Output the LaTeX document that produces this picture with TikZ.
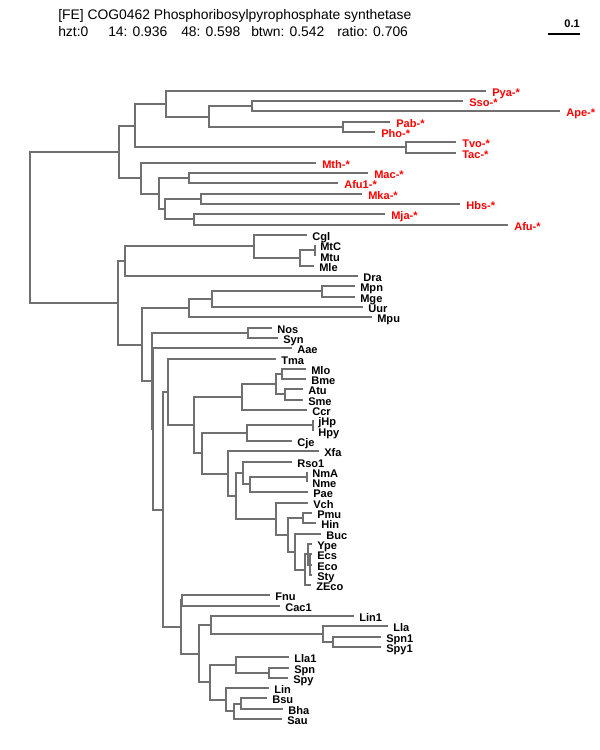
\documentclass[tikz,border=0pt]{standalone}
\usepackage{fontspec}
\setmainfont{Liberation Sans}
\usetikzlibrary{calc}

\definecolor{branchgray}{RGB}{112,112,112}
\definecolor{archred}{RGB}{255,0,0}

\tikzset{
  branch/.style={draw=branchgray, line width=1.5pt},
  taxon/.style={anchor=base west, inner sep=0pt, font=\fontsize{8.3}{9}\selectfont\bfseries},
  arch/.style={taxon, text=archred},
  headline/.style={anchor=base west, inner sep=0pt, font=\fontsize{10.4}{12}\selectfont},
}

\begin{document}
\begin{tikzpicture}[x=0.75pt,y=0.75pt,yscale=-1,xscale=1]
\useasboundingbox (0,0) rectangle (600,750);

% Text Node
\node[headline] (title) at (58,19) {[FE] COG0462 Phosphoribosylpyrophosphate synthetase};
\node[headline] (hzt) at (58,36) {hzt:0};
\node[headline] (s14) at (108,36) {14: 0.936};
\node[headline] (s48) at (181,36) {48: 0.598};
\node[headline] (btwn) at (251,36) {btwn: 0.542};
\node[headline] (ratio) at (337,36) {ratio: 0.706};

%Scale bar
\coordinate (barL) at (548,34);
\coordinate (barR) at (580,34);
\draw[line width=1pt] (barL) -- (barR);
\node[taxon, anchor=base east] (bar) at (580,27) {0.1};

%Leaf tips: archaea
\coordinate (Pya) at (486,91);
\coordinate (Sso) at (463,101);
\coordinate (Ape) at (560,111);
\coordinate (Pab) at (390,122);
\coordinate (Pho) at (375,132);
\coordinate (Tvo) at (456,142);
\coordinate (Tac) at (456,153);
\coordinate (Mth) at (316,163);
\coordinate (Mac) at (368,173);
\coordinate (Afu1) at (338,183);
\coordinate (Mka) at (362,194);
\coordinate (Hbs) at (460,204);
\coordinate (Mja) at (385,214);
\coordinate (Afu) at (508,225);

%Leaf tips: bacteria
\coordinate (Cgl) at (307,235);
\coordinate (MtC) at (315,245);
\coordinate (Mtu) at (315,256);
\coordinate (Mle) at (314,266);
\coordinate (Dra) at (358,276);
\coordinate (Mpn) at (355,286);
\coordinate (Mge) at (355,297);
\coordinate (Uur) at (363,307);
\coordinate (Mpu) at (372,317);
\coordinate (Nos) at (272,328);
\coordinate (Syn) at (278,338);
\coordinate (Aae) at (292,348);
\coordinate (Tma) at (276,359);
\coordinate (Mlo) at (306,369);
\coordinate (Bme) at (306,379);
\coordinate (Atu) at (303,389);
\coordinate (Sme) at (303,400);
\coordinate (Ccr) at (307,410);
\coordinate (jHp) at (313,420);
\coordinate (Hpy) at (313,431);
\coordinate (Cje) at (292,441);
\coordinate (Xfa) at (319,451);
\coordinate (Rso1) at (292,462);
\coordinate (NmA) at (307,472);
\coordinate (Nme) at (307,482);
\coordinate (Pae) at (308,492);
\coordinate (Vch) at (308,503);
\coordinate (Pmu) at (312,513);
\coordinate (Hin) at (316,523);
\coordinate (Buc) at (321,534);
\coordinate (Ype) at (312,544);
\coordinate (Ecs) at (312,554);
\coordinate (Eco) at (312,565);
\coordinate (Sty) at (312,575);
\coordinate (ZEco) at (311,585);
\coordinate (Fnu) at (270,595);
\coordinate (Cac1) at (280,606);
\coordinate (Lin1) at (354,616);
\coordinate (Lla) at (388,626);
\coordinate (Spn1) at (381,637);
\coordinate (Spy1) at (381,647);
\coordinate (Lla1) at (289,657);
\coordinate (Spn) at (289,668);
\coordinate (Spy) at (288,678);
\coordinate (Lin) at (269,688);
\coordinate (Bsu) at (267,698);
\coordinate (Bha) at (283,709);
\coordinate (Sau) at (282,719);

%Inner nodes: archaea
\coordinate (nSsoApe) at (252,106);
\coordinate (nPabPho) at (343,127);
\coordinate (nSsoPab) at (209,117);
\coordinate (nPya) at (166,104);
\coordinate (nTvoTac) at (406,147);
\coordinate (nCren) at (135,126);
\coordinate (nMacAfu) at (189,178);
\coordinate (nMkaHbs) at (201,199);
\coordinate (nMjaAfu) at (194,219);
\coordinate (nMkaMja) at (165,209);
\coordinate (nMacMka) at (159,194);
\coordinate (nMth) at (141,178);
\coordinate (nArch) at (119,152);

%Inner nodes: bacteria
\coordinate (nMtC) at (315,250);
\coordinate (nMtb) at (300,258);
\coordinate (nCgl) at (254,246);
\coordinate (nActDra) at (125,261);
\coordinate (nMpnMge) at (322,291);
\coordinate (nUur) at (212,299);
\coordinate (nMpu) at (189,308);
\coordinate (nCyano) at (248,333);
\coordinate (nMloBme) at (282,374);
\coordinate (nAtuSme) at (285,394);
\coordinate (nRhizo) at (276,384);
\coordinate (nAlpha) at (242,397);
\coordinate (nHp) at (313,425);
\coordinate (nEps) at (247,433);
\coordinate (nNeis) at (307,477);
\coordinate (nNeisPae) at (250,484);
\coordinate (nBeta) at (243,473);
\coordinate (nPmuHin) at (303,518);
\coordinate (nEcs) at (310,565);
\coordinate (nYpe) at (308,554);
\coordinate (nEnt) at (305,570);
\coordinate (nBuc) at (295,552);
\coordinate (nPast) at (288,535);
\coordinate (nVch) at (276,519);
\coordinate (nBetaGam) at (236,496);
\coordinate (nXfa) at (228,474);
\coordinate (nEpsXfa) at (202,453);
\coordinate (nProt) at (194,425);
\coordinate (nTma) at (168,392);
\coordinate (nFnuCac) at (182,600);
\coordinate (nSpn1) at (333,642);
\coordinate (nLla) at (323,634);
\coordinate (nLin1) at (211,625);
\coordinate (nSpnSpy) at (269,673);
\coordinate (nLla1) at (236,665);
\coordinate (nBsuBha) at (241,704);
\coordinate (nBsu) at (234,711);
\coordinate (nLin) at (226,700);
\coordinate (nBacil) at (210,682);
\coordinate (nLacto) at (199,654);
\coordinate (nFirm) at (181,627);
\coordinate (nTmaFirm) at (163,510);
\coordinate (nAae) at (153,429);
\coordinate (nCyanoAae) at (152,381);
\coordinate (nMpuCya) at (142,345);
\coordinate (nBact) at (118,303);
\coordinate (root) at (30,227);

%Straight Lines: archaea
\draw[branch] (root) |- (nArch) (root) |- (nBact);
\draw[branch] (nArch) |- (nCren) (nArch) |- (nMth);
\draw[branch] (nCren) |- (nPya) (nCren) |- (nTvoTac);
\draw[branch] (nPya) |- (Pya) (nPya) |- (nSsoPab);
\draw[branch] (nSsoPab) |- (nSsoApe) (nSsoPab) |- (nPabPho);
\draw[branch] (nSsoApe) |- (Sso) (nSsoApe) |- (Ape);
\draw[branch] (nPabPho) |- (Pab) (nPabPho) |- (Pho);
\draw[branch] (nTvoTac) |- (Tvo) (nTvoTac) |- (Tac);
\draw[branch] (nMth) |- (Mth) (nMth) |- (nMacMka);
\draw[branch] (nMacMka) |- (nMacAfu) (nMacMka) |- (nMkaMja);
\draw[branch] (nMacAfu) |- (Mac) (nMacAfu) |- (Afu1);
\draw[branch] (nMkaMja) |- (nMkaHbs) (nMkaMja) |- (nMjaAfu);
\draw[branch] (nMkaHbs) |- (Mka) (nMkaHbs) |- (Hbs);
\draw[branch] (nMjaAfu) |- (Mja) (nMjaAfu) |- (Afu);

%Straight Lines: bacteria
\draw[branch] (nBact) |- (nActDra) (nBact) |- (nMpuCya);
\draw[branch] (nActDra) |- (nCgl) (nActDra) |- (Dra);
\draw[branch] (nCgl) |- (Cgl) (nCgl) |- (nMtb);
\draw[branch] (nMtb) |- (nMtC) (nMtb) |- (Mle);
\draw[branch] (nMtC) |- (MtC) (nMtC) |- (Mtu);
\draw[branch] (nMpuCya) |- (nMpu) (nMpuCya) |- (nCyanoAae);
\draw[branch] (nMpu) |- (nUur) (nMpu) |- (Mpu);
\draw[branch] (nUur) |- (nMpnMge) (nUur) |- (Uur);
\draw[branch] (nMpnMge) |- (Mpn) (nMpnMge) |- (Mge);
\draw[branch] (nCyanoAae) |- (nCyano) (nCyanoAae) |- (nAae);
\draw[branch] (nCyano) |- (Nos) (nCyano) |- (Syn);
\draw[branch] (nAae) |- (Aae) (nAae) |- (nTmaFirm);
\draw[branch] (nTmaFirm) |- (nTma) (nTmaFirm) |- (nFirm);
\draw[branch] (nTma) |- (Tma) (nTma) |- (nProt);
\draw[branch] (nProt) |- (nAlpha) (nProt) |- (nEpsXfa);
\draw[branch] (nAlpha) |- (nRhizo) (nAlpha) |- (Ccr);
\draw[branch] (nRhizo) |- (nMloBme) (nRhizo) |- (nAtuSme);
\draw[branch] (nMloBme) |- (Mlo) (nMloBme) |- (Bme);
\draw[branch] (nAtuSme) |- (Atu) (nAtuSme) |- (Sme);
\draw[branch] (nEpsXfa) |- (nEps) (nEpsXfa) |- (nXfa);
\draw[branch] (nEps) |- (nHp) (nEps) |- (Cje);
\draw[branch] (nHp) |- (jHp) (nHp) |- (Hpy);
\draw[branch] (nXfa) |- (Xfa) (nXfa) |- (nBetaGam);
\draw[branch] (nBetaGam) |- (nBeta) (nBetaGam) |- (nVch);
\draw[branch] (nBeta) |- (Rso1) (nBeta) |- (nNeisPae);
\draw[branch] (nNeisPae) |- (nNeis) (nNeisPae) |- (Pae);
\draw[branch] (nNeis) |- (NmA) (nNeis) |- (Nme);
\draw[branch] (nVch) |- (Vch) (nVch) |- (nPast);
\draw[branch] (nPast) |- (nPmuHin) (nPast) |- (nBuc);
\draw[branch] (nPmuHin) |- (Pmu) (nPmuHin) |- (Hin);
\draw[branch] (nBuc) |- (Buc) (nBuc) |- (nEnt);
\draw[branch] (nEnt) |- (nYpe) (nEnt) |- (ZEco);
\draw[branch] (nYpe) |- (Ype) (nYpe) |- (nEcs);
\draw[branch] (nEcs) |- (Ecs) (nEcs) |- (Eco) (nEcs) |- (Sty);
\draw[branch] (nFirm) |- (nFnuCac) (nFirm) |- (nLacto);
\draw[branch] (nFnuCac) |- (Fnu) (nFnuCac) |- (Cac1);
\draw[branch] (nLacto) |- (nLin1) (nLacto) |- (nBacil);
\draw[branch] (nLin1) |- (Lin1) (nLin1) |- (nLla);
\draw[branch] (nLla) |- (Lla) (nLla) |- (nSpn1);
\draw[branch] (nSpn1) |- (Spn1) (nSpn1) |- (Spy1);
\draw[branch] (nBacil) |- (nLla1) (nBacil) |- (nLin);
\draw[branch] (nLla1) |- (Lla1) (nLla1) |- (nSpnSpy);
\draw[branch] (nSpnSpy) |- (Spn) (nSpnSpy) |- (Spy);
\draw[branch] (nLin) |- (Lin) (nLin) |- (nBsu);
\draw[branch] (nBsu) |- (nBsuBha) (nBsu) |- (Sau);
\draw[branch] (nBsuBha) |- (Bsu) (nBsuBha) |- (Bha);

% Text Node: archaea
\node[arch] (lPya) at ($(Pya)+(6,5.5)$) {Pya-*};
\node[arch] (lSso) at ($(Sso)+(6,5.5)$) {Sso-*};
\node[arch] (lApe) at ($(Ape)+(6,5.5)$) {Ape-*};
\node[arch] (lPab) at ($(Pab)+(6,5.5)$) {Pab-*};
\node[arch] (lPho) at ($(Pho)+(6,5.5)$) {Pho-*};
\node[arch] (lTvo) at ($(Tvo)+(6,5.5)$) {Tvo-*};
\node[arch] (lTac) at ($(Tac)+(6,5.5)$) {Tac-*};
\node[arch] (lMth) at ($(Mth)+(6,5.5)$) {Mth-*};
\node[arch] (lMac) at ($(Mac)+(6,5.5)$) {Mac-*};
\node[arch] (lAfu1) at ($(Afu1)+(6,5.5)$) {Afu1-*};
\node[arch] (lMka) at ($(Mka)+(6,5.5)$) {Mka-*};
\node[arch] (lHbs) at ($(Hbs)+(6,5.5)$) {Hbs-*};
\node[arch] (lMja) at ($(Mja)+(6,5.5)$) {Mja-*};
\node[arch] (lAfu) at ($(Afu)+(6,5.5)$) {Afu-*};

% Text Node: bacteria
\node[taxon] (lCgl) at ($(Cgl)+(5,5.5)$) {Cgl};
\node[taxon] (lMtC) at ($(MtC)+(5,5.5)$) {MtC};
\node[taxon] (lMtu) at ($(Mtu)+(5,5.5)$) {Mtu};
\node[taxon] (lMle) at ($(Mle)+(5,5.5)$) {Mle};
\node[taxon] (lDra) at ($(Dra)+(5,5.5)$) {Dra};
\node[taxon] (lMpn) at ($(Mpn)+(5,5.5)$) {Mpn};
\node[taxon] (lMge) at ($(Mge)+(5,5.5)$) {Mge};
\node[taxon] (lUur) at ($(Uur)+(5,5.5)$) {Uur};
\node[taxon] (lMpu) at ($(Mpu)+(5,5.5)$) {Mpu};
\node[taxon] (lNos) at ($(Nos)+(5,5.5)$) {Nos};
\node[taxon] (lSyn) at ($(Syn)+(5,5.5)$) {Syn};
\node[taxon] (lAae) at ($(Aae)+(5,5.5)$) {Aae};
\node[taxon] (lTma) at ($(Tma)+(5,5.5)$) {Tma};
\node[taxon] (lMlo) at ($(Mlo)+(5,5.5)$) {Mlo};
\node[taxon] (lBme) at ($(Bme)+(5,5.5)$) {Bme};
\node[taxon] (lAtu) at ($(Atu)+(5,5.5)$) {Atu};
\node[taxon] (lSme) at ($(Sme)+(5,5.5)$) {Sme};
\node[taxon] (lCcr) at ($(Ccr)+(5,5.5)$) {Ccr};
\node[taxon] (ljHp) at ($(jHp)+(5,5.5)$) {jHp};
\node[taxon] (lHpy) at ($(Hpy)+(5,5.5)$) {Hpy};
\node[taxon] (lCje) at ($(Cje)+(5,5.5)$) {Cje};
\node[taxon] (lXfa) at ($(Xfa)+(5,5.5)$) {Xfa};
\node[taxon] (lRso1) at ($(Rso1)+(5,5.5)$) {Rso1};
\node[taxon] (lNmA) at ($(NmA)+(5,5.5)$) {NmA};
\node[taxon] (lNme) at ($(Nme)+(5,5.5)$) {Nme};
\node[taxon] (lPae) at ($(Pae)+(5,5.5)$) {Pae};
\node[taxon] (lVch) at ($(Vch)+(5,5.5)$) {Vch};
\node[taxon] (lPmu) at ($(Pmu)+(5,5.5)$) {Pmu};
\node[taxon] (lHin) at ($(Hin)+(5,5.5)$) {Hin};
\node[taxon] (lBuc) at ($(Buc)+(5,5.5)$) {Buc};
\node[taxon] (lYpe) at ($(Ype)+(5,5.5)$) {Ype};
\node[taxon] (lEcs) at ($(Ecs)+(5,5.5)$) {Ecs};
\node[taxon] (lEco) at ($(Eco)+(5,5.5)$) {Eco};
\node[taxon] (lSty) at ($(Sty)+(5,5.5)$) {Sty};
\node[taxon] (lZEco) at ($(ZEco)+(5,5.5)$) {ZEco};
\node[taxon] (lFnu) at ($(Fnu)+(5,5.5)$) {Fnu};
\node[taxon] (lCac1) at ($(Cac1)+(5,5.5)$) {Cac1};
\node[taxon] (lLin1) at ($(Lin1)+(5,5.5)$) {Lin1};
\node[taxon] (lLla) at ($(Lla)+(5,5.5)$) {Lla};
\node[taxon] (lSpn1) at ($(Spn1)+(5,5.5)$) {Spn1};
\node[taxon] (lSpy1) at ($(Spy1)+(5,5.5)$) {Spy1};
\node[taxon] (lLla1) at ($(Lla1)+(5,5.5)$) {Lla1};
\node[taxon] (lSpn) at ($(Spn)+(5,5.5)$) {Spn};
\node[taxon] (lSpy) at ($(Spy)+(5,5.5)$) {Spy};
\node[taxon] (lLin) at ($(Lin)+(5,5.5)$) {Lin};
\node[taxon] (lBsu) at ($(Bsu)+(5,5.5)$) {Bsu};
\node[taxon] (lBha) at ($(Bha)+(5,5.5)$) {Bha};
\node[taxon] (lSau) at ($(Sau)+(5,5.5)$) {Sau};

\end{tikzpicture}
\end{document}
